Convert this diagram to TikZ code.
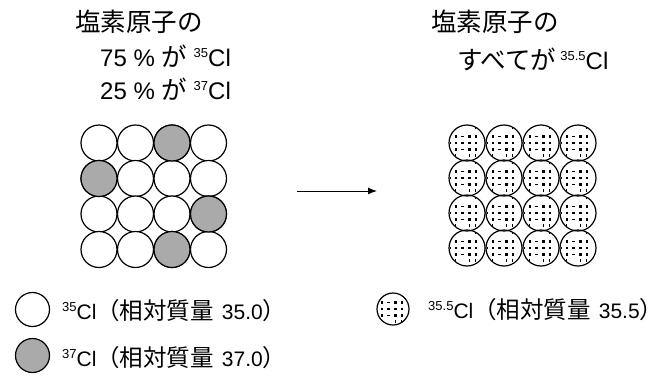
\documentclass[tikz,border=0pt]{standalone}
\usepackage{fontspec}
\setmainfont{Liberation Sans}
\newfontfamily\jp{Noto Sans CJK JP}
\usetikzlibrary{arrows.meta}
% isotope mass number, raised to the cap height
\newcommand\massno[1]{\raisebox{0.34em}{\fontsize{13}{13}\selectfont #1}}
% Japanese text in headings and in the legend
\newcommand\jhead[1]{{\jp\fontsize{25.5}{28}\selectfont #1}}
\newcommand\jleg[1]{{\jp\fontsize{23.5}{26}\selectfont #1}}
\definecolor{heavy}{RGB}{170,170,170}
\tikzset{
  atom/.style={circle,draw,line width=1.2pt,minimum size=36pt,inner sep=0pt},
  lightatom/.style={atom,fill=white},
  heavyatom/.style={atom,fill=heavy},
  meanatom/.style={atom,path picture={
    \begin{scope}[shift={(path picture bounding box.center)}]
      \foreach \dy in {-8,-1.5,5}{
        \fill (-12.5,\dy) rectangle ++(2.8,2.8);
        \fill (-6.5,\dy+0.6) rectangle ++(3.4,1.4);
        \fill (1,\dy) rectangle ++(2.8,2.8);
        \fill (7.5,\dy) rectangle ++(2.8,2.8);
        \fill (-17.5,\dy+0.6) rectangle ++(1.4,1.4);
      }
      \foreach \dx in {-12,1.5,8}{\fill (\dx,11) rectangle ++(1.3,3.4);}
      \fill (8,-17.5) rectangle ++(1.3,3.4);
    \end{scope}}},
  caption/.style={anchor=base west,inner sep=0pt,font=\fontsize{24}{28}\selectfont},
  legend/.style={anchor=base west,inner sep=0pt,font=\fontsize{21}{25}\selectfont},
}
\begin{document}
\begin{tikzpicture}[x=1pt,y=-1pt]
\useasboundingbox (0,0) rectangle (672,375);

% headings
\node[caption] (t1) at (75,31) {\jhead{塩素原子の}};
\node[caption] (t2) at (100,66) {75 \% \jhead{が} \massno{35}Cl};
\node[caption] (t3) at (100,99) {25 \% \jhead{が} \massno{37}Cl};
\node[caption] (u1) at (431,31) {\jhead{塩素原子の}};
\node[caption] (u2) at (457,69) {\jhead{すべてが}\,\massno{35.5}Cl};

% natural mixture of isotopes
\foreach \r/\y in {1/143,2/178.5,3/214,4/249.5}{
  \foreach \c/\x in {1/99,2/135.5,3/172,4/208.5}{
    \node[lightatom] (l\r\c) at (\x,\y) {};
  }
}
\foreach \r/\c in {1/3,2/1,3/4,4/3}{
  \node[heavyatom] at (l\r\c) {};
}

% averaged atoms
\foreach \r/\y in {1/143,2/178,3/213,4/248}{
  \foreach \c/\x in {1/467,2/504,3/541,4/578}{
    \node[meanatom] (m\r\c) at (\x,\y) {};
  }
}

% arrow
\coordinate (a1) at (297,191);
\coordinate (a2) at (377,191);
\draw[line width=1pt,-{Latex[length=9pt,width=7pt]}] (a1) -- (a2);

% legend
\node[lightatom,minimum size=34pt] (k1) at (32.5,309.5) {};
\node[heavyatom,minimum size=34pt] (k2) at (32.5,355.5) {};
\node[meanatom,minimum size=32pt] (k3) at (393,309) {};
\node[legend] (k1t) at (62,319) {\massno{35}Cl\jleg{（相対質量}\hspace{8pt}35.0\jleg{）}};
\node[legend] (k2t) at (62,366) {\massno{37}Cl\jleg{（相対質量}\hspace{8pt}37.0\jleg{）}};
\node[legend] (k3t) at (428,318) {\massno{35.5}Cl\jleg{（相対質量}\hspace{8pt}35.5\jleg{）}};
\end{tikzpicture}
\end{document}
